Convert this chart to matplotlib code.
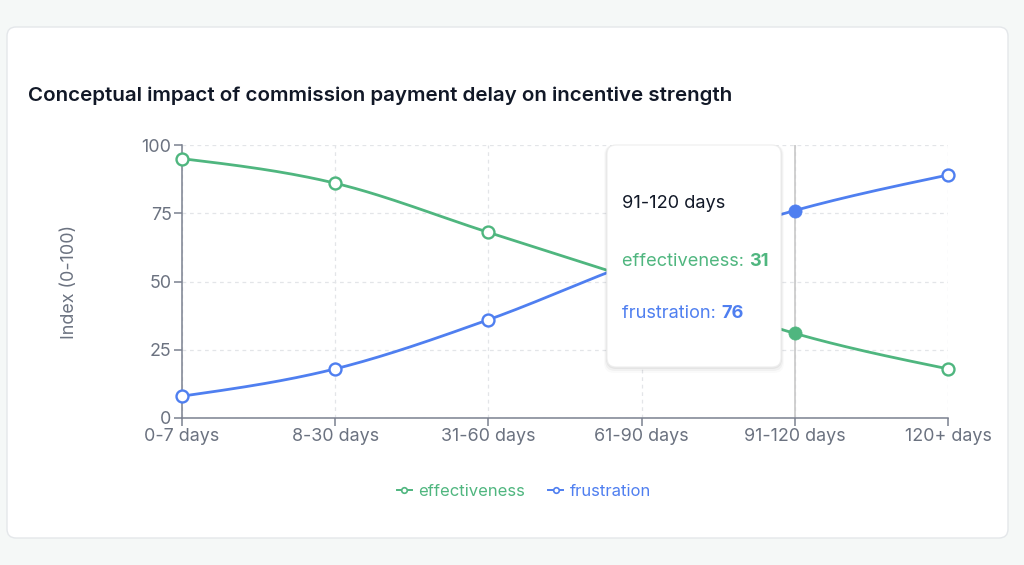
import matplotlib
matplotlib.use("Agg")
import matplotlib.pyplot as plt
import numpy as np
from matplotlib.patches import FancyBboxPatch
from matplotlib.lines import Line2D
from matplotlib.text import Annotation
from matplotlib.transforms import IdentityTransform

CATEGORIES = ["0-7 days", "8-30 days", "31-60 days", "61-90 days", "91-120 days", "120+ days"]
EFFECTIVENESS = [95, 86, 68, 50, 31, 18]
FRUSTRATION = [8, 18, 36, 58, 76, 89]
Y_TICKS = [0, 25, 50, 75, 100]
ACTIVE = 4

GREEN = "#4fb67f"
BLUE = "#4f7ff0"
GRAY = "#6b7280"
DARK = "#111827"

W, H = 1024, 565
plt.rcParams["font.family"] = ["Inter", "DejaVu Sans"]


def monotone_curve(xs, ys, n=40):
    # d3 curveMonotoneX style cubic hermite
    xs = np.asarray(xs, float)
    ys = np.asarray(ys, float)
    h = np.diff(xs)
    s = np.diff(ys) / h
    t = np.zeros(len(xs))
    for i in range(1, len(xs) - 1):
        p = (s[i - 1] * h[i] + s[i] * h[i - 1]) / (h[i - 1] + h[i])
        t[i] = (np.sign(s[i - 1]) + np.sign(s[i])) * min(abs(s[i - 1]), abs(s[i]), 0.5 * abs(p))
    t[0] = (3 * s[0] - t[1]) / 2
    t[-1] = (3 * s[-1] - t[-2]) / 2
    out_x, out_y = [], []
    for i in range(len(xs) - 1):
        u = np.linspace(0, 1, n)
        h00 = 2 * u**3 - 3 * u**2 + 1
        h10 = u**3 - 2 * u**2 + u
        h01 = -2 * u**3 + 3 * u**2
        h11 = u**3 - u**2
        out_x.extend(xs[i] + u * h[i])
        out_y.extend(h00 * ys[i] + h10 * h[i] * t[i] + h01 * ys[i + 1] + h11 * h[i] * t[i + 1])
    return np.array(out_x), np.array(out_y)


def px(x, y):
    # top-left pixel coords -> display coords
    return x, H - y


fig = plt.figure(figsize=(W / 100, H / 100), dpi=100)
fig.patch.set_facecolor("#f5f8f7")

card = FancyBboxPatch(px(7, 538), 1001, 511, boxstyle="round,pad=0,rounding_size=9",
                      transform=IdentityTransform(), facecolor="white",
                      edgecolor="#e4e7ea", linewidth=1, zorder=-5)
fig.add_artist(card)

fig.text(28 / W, 1 - 96 / H, "Conceptual impact of commission payment delay on incentive strength",
         fontsize=14.8, fontweight="semibold", color=DARK, va="center", ha="left")

ax = fig.add_axes([182 / W, 147 / H, (948 - 182) / W, 273 / H])
ax.set_facecolor("none")
x = np.arange(len(CATEGORIES))

for vals, color in [(EFFECTIVENESS, GREEN), (FRUSTRATION, BLUE)]:
    cx, cy = monotone_curve(x, vals)
    ax.plot(cx, cy, color=color, linewidth=2.0, zorder=3, solid_capstyle="round", clip_on=False)
    idx = [i for i in range(len(vals)) if i != ACTIVE]
    ax.plot(x[idx], np.array(vals)[idx], linestyle="none", marker="o", markersize=8.6,
            markerfacecolor="white", markeredgecolor=color, markeredgewidth=1.7, zorder=4,
            clip_on=False)
    ax.plot([x[ACTIVE]], [vals[ACTIVE]], linestyle="none", marker="o", markersize=9.5,
            markerfacecolor=color, markeredgecolor=color, markeredgewidth=0.5, zorder=5,
            clip_on=False)

ax.axvline(x[ACTIVE], color="#c8c8c8", linewidth=1.2, zorder=2)

ax.set_xlim(0, len(CATEGORIES) - 1)
ax.set_ylim(0, 100)
ax.set_xticks(x)
ax.set_xticklabels(CATEGORIES)
ax.set_yticks(Y_TICKS)
ax.grid(True, linestyle=(0, (3, 3)), color="#e3e5e8", linewidth=0.9)
ax.set_axisbelow(True)
for side in ["top", "right"]:
    ax.spines[side].set_visible(False)
for side in ["left", "bottom"]:
    ax.spines[side].set_color("#7b8190")
    ax.spines[side].set_linewidth(1.1)
ax.tick_params(axis="both", colors="#7b8190", length=6, width=1.1, labelsize=12.9,
               labelcolor=GRAY, pad=1.5)
ax.set_ylabel("Index (0-100)", fontsize=12.9, color=GRAY)
ax.yaxis.set_label_coords(-(182 - 78) / (948 - 182), 0.5)

handles = [Line2D([0], [0], color=GREEN, marker="o", markersize=4, markerfacecolor="white",
                  markeredgewidth=1.2, linewidth=1.4),
           Line2D([0], [0], color=BLUE, marker="o", markersize=4, markerfacecolor="white",
                  markeredgewidth=1.2, linewidth=1.4)]
leg = fig.legend(handles, ["effectiveness", "frustration"], loc="center",
                 bbox_to_anchor=(524 / W, 1 - 491 / H), ncol=2, frameon=False,
                 fontsize=12, handlelength=0.9, handletextpad=0.4, columnspacing=1.4)
for txt, c in zip(leg.get_texts(), [GREEN, BLUE]):
    txt.set_color(c)

# tooltip
for i, a in enumerate([0.05, 0.035, 0.02]):
    d = 2 + i * 2
    sh = FancyBboxPatch(px(607 - d / 2, 367 + d), 174 + d, 222 + d,
                        boxstyle="round,pad=0,rounding_size=10", transform=IdentityTransform(),
                        facecolor="black", edgecolor="none", alpha=a, zorder=8)
    fig.add_artist(sh)
tip = FancyBboxPatch(px(607, 367), 174, 222, boxstyle="round,pad=0,rounding_size=9",
                     transform=IdentityTransform(), facecolor="white",
                     edgecolor="#eeeeee", linewidth=0.8, zorder=9)
fig.add_artist(tip)

fig.text(622 / W, 1 - 204 / H, CATEGORIES[ACTIVE], fontsize=13.1, color=DARK,
         va="center", ha="left", zorder=10)
rows = [("effectiveness: ", EFFECTIVENESS[ACTIVE], GREEN, 262),
        ("frustration: ", FRUSTRATION[ACTIVE], BLUE, 313)]
for label, val, color, ty in rows:
    t1 = fig.text(622 / W, 1 - ty / H, label, fontsize=13.1, color=color,
                  va="center", ha="left", zorder=10)
    ann = Annotation(str(val), xy=(1, 0), xycoords=t1, va="bottom", ha="left",
                     fontsize=13.1, color=color, fontweight="bold", zorder=10)
    fig.add_artist(ann)

fig.savefig("out.png", dpi=100, facecolor=fig.get_facecolor())
